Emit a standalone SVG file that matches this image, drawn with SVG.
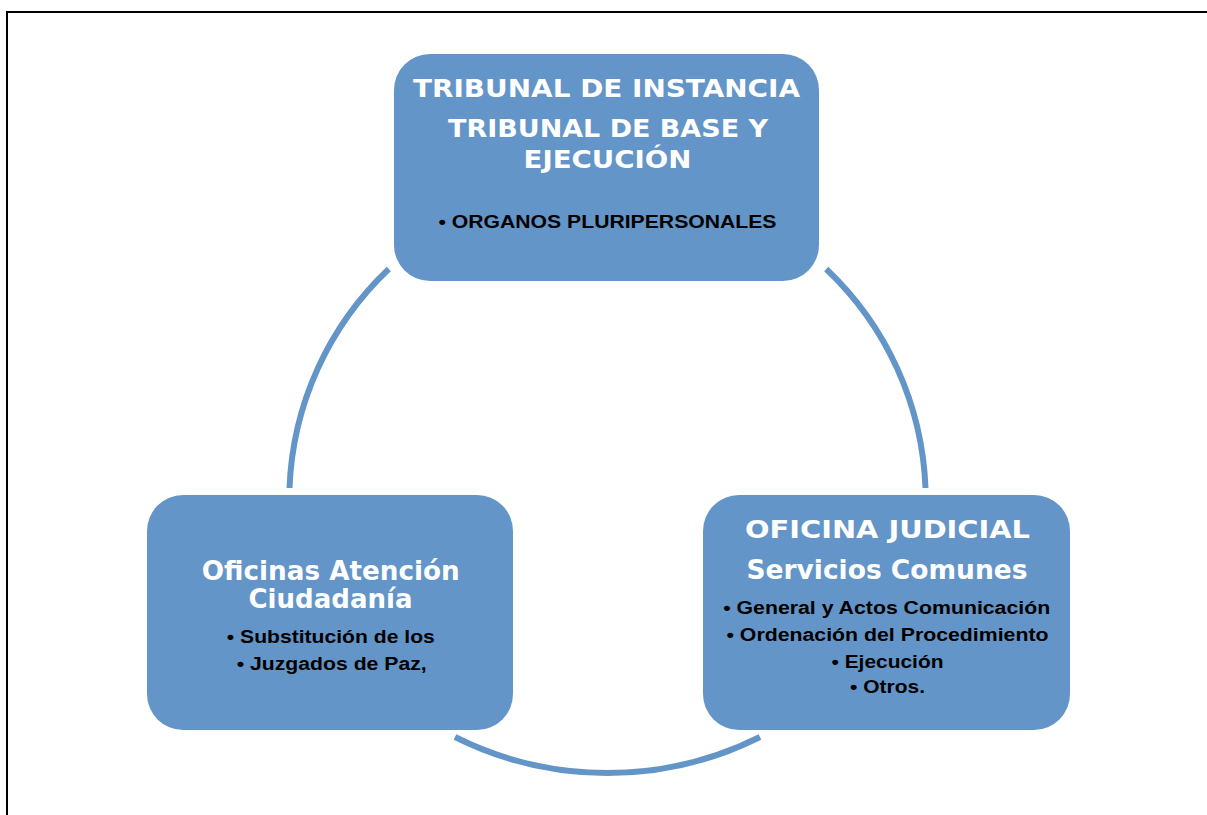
<svg xmlns="http://www.w3.org/2000/svg" width="1207" height="815" viewBox="0 0 1207 815">
<style>
.box{fill:#6395c8;}
.arc{fill:none;stroke:#6395c8;stroke-width:6;}
.t{font-family:"DejaVu Sans",Verdana,sans-serif;font-weight:bold;fill:#ffffff;text-anchor:middle;}
.b{font-family:"Liberation Sans",Arial,sans-serif;font-weight:bold;fill:#000000;text-anchor:middle;font-size:18px;}
.frame{stroke:#000;stroke-width:2;fill:none;}
</style>
<rect width="1207" height="815" fill="#ffffff"/>
<path class="frame" d="M7 815 V12 H1207"/>
<g id="connectors">
<path class="arc" d="M388.8 269 A318.3 318.3 0 0 0 289.5 488"/>
<path class="arc" d="M826.2 269 A318.3 318.3 0 0 1 925.5 488"/>
<path class="arc" d="M455 737 A341 341 0 0 0 760 737"/>
</g>
<g id="tribunal">
<rect class="box" x="394" y="54" width="425" height="227" rx="36"/>
<text class="t" x="606.5" y="97" font-size="25" textLength="387" lengthAdjust="spacingAndGlyphs">TRIBUNAL DE INSTANCIA</text>
<text class="t" x="608" y="137" font-size="25" textLength="320" lengthAdjust="spacingAndGlyphs">TRIBUNAL DE BASE Y</text>
<text class="t" x="607.5" y="168" font-size="25" textLength="168" lengthAdjust="spacingAndGlyphs">EJECUCIÓN</text>
<text class="b" x="607.5" y="228" textLength="338" lengthAdjust="spacingAndGlyphs">• ORGANOS PLURIPERSONALES</text>
</g>
<g id="oficinas">
<rect class="box" x="147" y="495" width="366" height="235" rx="36"/>
<text class="t" x="330.8" y="580" font-size="26" textLength="258" lengthAdjust="spacingAndGlyphs">Oficinas Atención</text>
<text class="t" x="330.5" y="607.5" font-size="26" textLength="164" lengthAdjust="spacingAndGlyphs">Ciudadanía</text>
<text class="b" x="330.8" y="643" textLength="208" lengthAdjust="spacingAndGlyphs">• Substitución de los</text>
<text class="b" x="331.7" y="670" textLength="190" lengthAdjust="spacingAndGlyphs">• Juzgados de Paz,</text>
</g>
<g id="oficina-judicial">
<rect class="box" x="703" y="495" width="367" height="235" rx="36"/>
<text class="t" x="887.5" y="538" font-size="25" textLength="285" lengthAdjust="spacingAndGlyphs">OFICINA JUDICIAL</text>
<text class="t" x="887" y="579" font-size="26" textLength="281" lengthAdjust="spacingAndGlyphs">Servicios Comunes</text>
<text class="b" x="886.7" y="614" textLength="327" lengthAdjust="spacingAndGlyphs">• General y Actos Comunicación</text>
<text class="b" x="887.5" y="641" textLength="322" lengthAdjust="spacingAndGlyphs">• Ordenación del Procedimiento</text>
<text class="b" x="887.5" y="668" textLength="112" lengthAdjust="spacingAndGlyphs">• Ejecución</text>
<text class="b" x="887.5" y="693" textLength="75" lengthAdjust="spacingAndGlyphs">• Otros.</text>
</g>
</svg>
